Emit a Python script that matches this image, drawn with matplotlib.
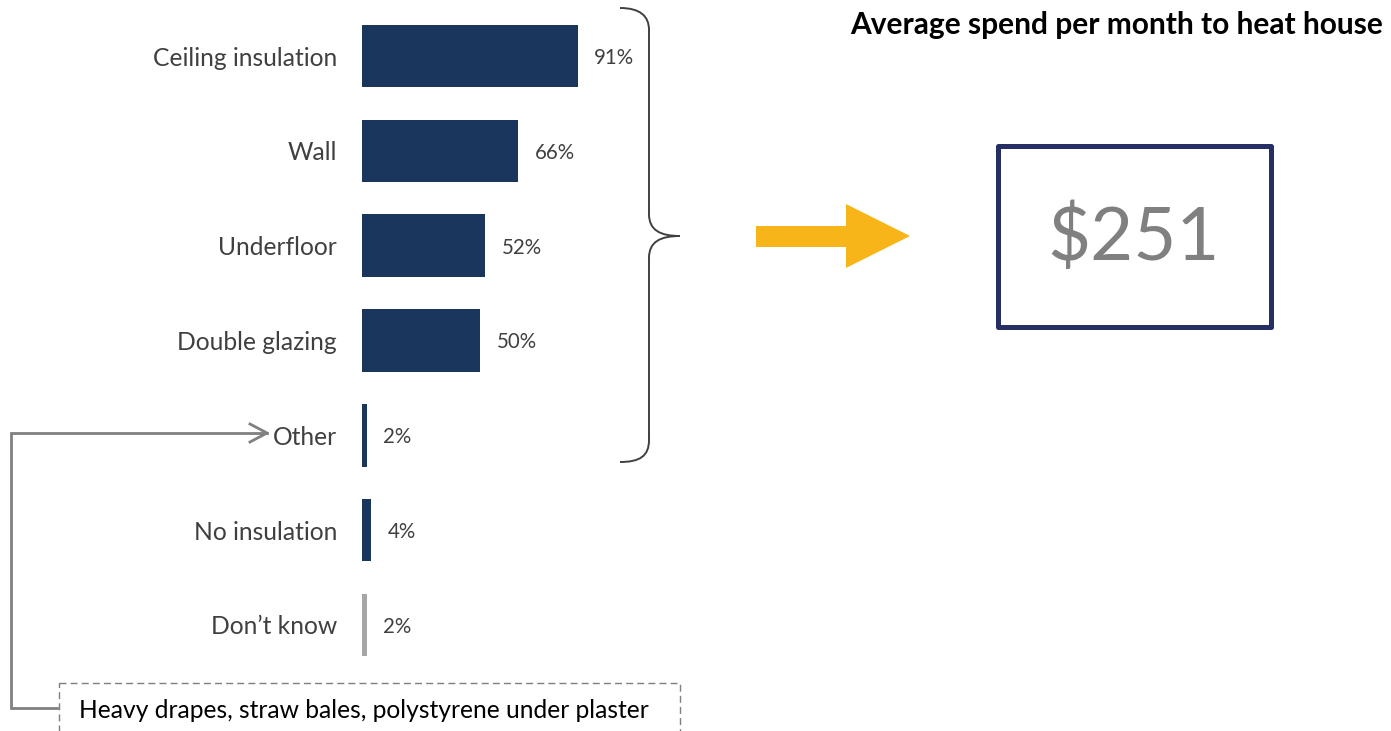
import matplotlib.pyplot as plt
from matplotlib.path import Path
from matplotlib.patches import PathPatch, Polygon, Rectangle

plt.rcParams['font.family'] = ['Lato', 'DejaVu Sans']

# dane
categories = ['Ceiling insulation', 'Wall', 'Underfloor', 'Double glazing',
              'Other', 'No insulation', 'Don\u2019t know']
values = [91, 66, 52, 50, 2, 4, 2]
bar_colors = ['#1B365D'] * 6 + ['#A6A6A6']
title = 'Average spend per month to heat house'
spend = '$251'
other_note = 'Heavy drapes, straw bales, polystyrene under plaster'

W, H = 1391, 731
fig = plt.figure(figsize=(W / 100, H / 100), dpi=100)

# wykres slupkowy
ax = fig.add_axes([362 / W, 1 - 672.4 / H, 237 / W, 663.8 / H])
ypos = list(range(len(categories)))
ax.barh(ypos, values, height=0.66, color=bar_colors)
ax.set_xlim(0, 100)
ax.set_ylim(6.5, -0.5)
ax.set_yticks(ypos)
ax.set_yticklabels(categories, fontsize=17.7, color='#404040')
ax.tick_params(axis='y', length=0, pad=18)
ax.set_xticks([])
for s in ax.spines.values():
    s.set_visible(False)
for y, v in zip(ypos, values):
    ax.annotate(f'{v}%', (v, y), xytext=(12, 0), textcoords='offset points',
                ha='left', va='center_baseline', fontsize=14.8, color='#404040')

# nakladka w pikselach
ov = fig.add_axes([0, 0, 1, 1], facecolor='none')
ov.set_xlim(0, W)
ov.set_ylim(H, 0)
ov.axis('off')

# klamra
verts = [(620, 8), (640, 8), (649, 16), (649, 30),
         (649, 214),
         (649, 230), (660, 236), (680, 236),
         (660, 236), (649, 242), (649, 258),
         (649, 440),
         (649, 456), (640, 462), (620, 462)]
codes = [Path.MOVETO, Path.CURVE4, Path.CURVE4, Path.CURVE4,
         Path.LINETO,
         Path.CURVE4, Path.CURVE4, Path.CURVE4,
         Path.CURVE4, Path.CURVE4, Path.CURVE4,
         Path.LINETO,
         Path.CURVE4, Path.CURVE4, Path.CURVE4]
ov.add_patch(PathPatch(Path(verts, codes), fill=False, edgecolor='#404040', lw=1.4))

# zolta strzalka
ov.add_patch(Polygon([(756, 226), (846, 226), (846, 204), (910, 236),
                      (846, 268), (846, 247), (756, 247)],
                     closed=True, facecolor='#F7B519', edgecolor='none'))

# ramka z kwota
ov.add_patch(Rectangle((997.5, 145.5), 273, 181, fill=False,
                       edgecolor='#252F63', lw=3.6, joinstyle='round'))
ov.text(1133, 238, spend, ha='center', va='center', fontsize=53.5, color='#808080')

ov.text(1117, 25, title, ha='center', va='center', fontsize=21.5,
        fontweight='bold', color='black')

# laczniki do "Other"
ov.plot([57, 11, 11, 267], [708, 708, 433, 433], color='#808080', lw=2,
        solid_joinstyle='miter')
ov.plot([250, 267, 250], [424, 433, 442], color='#808080', lw=2)
ov.add_patch(Rectangle((59, 683), 621, 80, fill=False, edgecolor='#7F7F7F',
                       lw=1, linestyle=(0, (5, 3))))
ov.text(79, 711, other_note, ha='left', va='center', fontsize=17.7, color='black')

fig.savefig('out.png', dpi=100)
